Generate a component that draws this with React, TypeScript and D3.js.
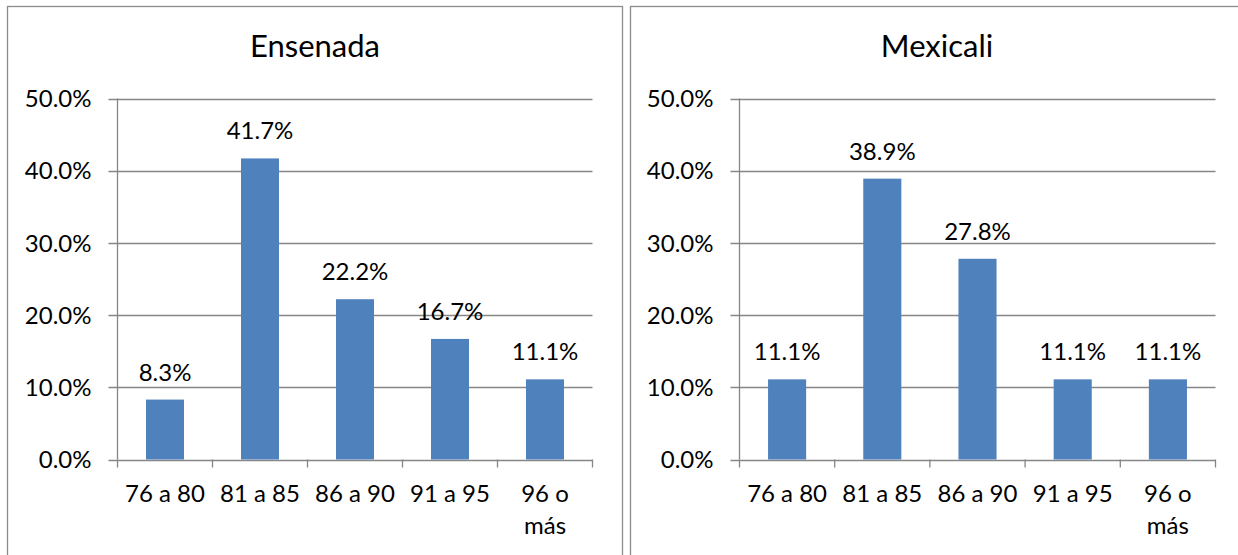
import React from "react";
import * as d3 from "d3";

const categories = ["76 a 80", "81 a 85", "86 a 90", "91 a 95", "96 o más"];
const ensenadaValues = [8.3, 41.7, 22.2, 16.7, 11.1];
const mexicaliValues = [11.1, 38.9, 27.8, 11.1, 11.1];
const yTicks = [0, 10, 20, 30, 40, 50];
const panelTitles = ["Ensenada", "Mexicali"];

const FONT = "Lato, 'Open Sans', sans-serif";
const GRID = "#868686";
const BAR = "#4F81BD";
const FS = 24;

type PanelProps = {
  title: string;
  values: number[];
  boxX: number;
  boxW: number;
  plotL: number;
  plotR: number;
};

function wrapLabel(s: string): string[] {
  const w = s.split(" ");
  if (s.length > 7 && w.length > 1) return [w.slice(0, w.length - 1).join(" "), w[w.length - 1]];
  return [s];
}

function Panel({ title, values, boxX, boxW, plotL, plotR }: PanelProps) {
  const top = 98.5;
  const bottom = 459.5;
  const x = d3.scaleBand<string>().domain(categories).range([plotL, plotR]).paddingInner(0.6).paddingOuter(0.3);
  const xb = d3.scaleBand<string>().domain(categories).range([plotL, plotR]);
  const y = d3.scaleLinear().domain([0, 50]).range([bottom, top]);
  const fmt = (v: number) => v.toFixed(1) + "%";
  const titleX = boxX === 7.5 ? 315 : 937;
  return (
    <g>
      <rect x={boxX} y={6.5} width={boxW} height={600} fill="#fff" stroke="#8c8c8c" strokeWidth={1.3} />
      <text x={titleX} y={57} textAnchor="middle" fontFamily={FONT} fontSize={31} fill="#000">
        {title}
      </text>
      {yTicks.map((t) => (
        <g key={t}>
          <line x1={plotL - 9} x2={plotR} y1={Math.round(y(t)) + 0.5} y2={Math.round(y(t)) + 0.5} stroke={GRID} strokeWidth={1.3} />
          <text x={plotL - 26} y={y(t)} dy="0.36em" textAnchor="end" fontFamily={FONT} fontSize={FS} fill="#000">
            {fmt(t)}
          </text>
        </g>
      ))}
      <line x1={plotL} x2={plotL} y1={top} y2={bottom} stroke={GRID} strokeWidth={1.3} />
      {categories.map((c, i) => (
        <line key={"t" + i} x1={xb(c)!} x2={xb(c)!} y1={bottom} y2={bottom + 8} stroke={GRID} strokeWidth={1.3} />
      ))}
      <line x1={plotR} x2={plotR} y1={bottom} y2={bottom + 8} stroke={GRID} strokeWidth={1.3} />
      {categories.map((c, i) => (
        <rect key={"b" + i} x={x(c)!} y={y(values[i])} width={x.bandwidth()} height={bottom - y(values[i])} fill={BAR} />
      ))}
      {categories.map((c, i) => (
        <text key={"l" + i} x={x(c)! + x.bandwidth() / 2} y={y(values[i]) - 19} textAnchor="middle" fontFamily={FONT} fontSize={FS} fill="#000">
          {fmt(values[i])}
        </text>
      ))}
      {categories.map((c, i) => (
        <text key={"c" + i} textAnchor="middle" fontFamily={FONT} fontSize={FS} fill="#000">
          {wrapLabel(c).map((ln, j) => (
            <tspan key={j} x={xb(c)! + xb.bandwidth() / 2} y={502 + j * 32}>{ln}</tspan>
          ))}
        </text>
      ))}
    </g>
  );
}

export default function App() {
  return (
    <svg width={1238} height={555} style={{ position: "absolute", left: 0, top: 0, background: "#fff" }}>
      <rect x={0} y={0} width={1238} height={555} fill="#fff" />
      <Panel title={panelTitles[0]} values={ensenadaValues} boxX={7.5} boxW={615} plotL={117.5} plotR={592.5} />
      <Panel title={panelTitles[1]} values={mexicaliValues} boxX={630.5} boxW={640} plotL={739.5} plotR={1215.5} />
    </svg>
  );
}
